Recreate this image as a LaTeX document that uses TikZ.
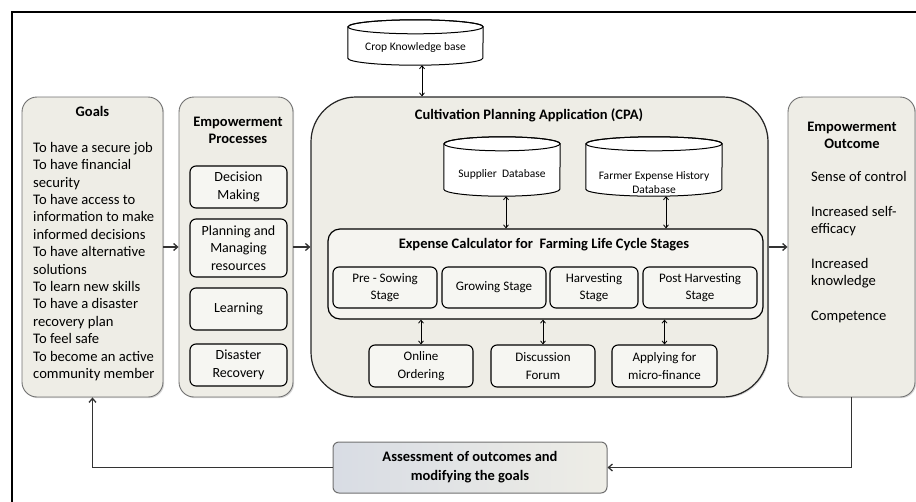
\documentclass[tikz,border=0pt]{standalone}
\usepackage{fontspec}
\setmainfont{Carlito}
\usetikzlibrary{arrows.meta,calc,shadows}

\definecolor{boxfill}{HTML}{EEEDE6}
\definecolor{boxline}{HTML}{707070}
\definecolor{assessleft}{HTML}{D8DCE4}

\begin{document}
\begin{tikzpicture}[x=1pt,y=-1pt]
\tikzset{
  bigbox/.style   = {shape=rectangle, rounded corners=15pt,
                     draw=boxline, line width=0.9pt, fill=boxfill,
                     drop shadow={shadow xshift=1.2pt, shadow yshift=-1.2pt, opacity=0.3},
                     inner sep=0pt},
  subbox/.style   = {shape=rectangle, rounded corners=6pt,
                     draw=black, line width=1.1pt, fill=white!50!boxfill,
                     align=center, inner sep=0pt,
                     font=\fontsize{14}{17.4}\selectfont},
  stagebox/.style = {subbox, font=\fontsize{13}{17.5}\selectfont},
  calcbox/.style  = {shape=rectangle, rounded corners=12pt,
                     draw=black, line width=1.2pt, fill=white!40!boxfill,
                     inner sep=0pt},
  heading/.style  = {align=center, inner sep=0pt,
                     font=\bfseries\fontsize{14.5}{17}\selectfont},
  listtext/.style = {align=left, inner sep=0pt,
                     font=\fontsize{14.6}{17.4}\selectfont},
  dbshape/.style  = {shape=rectangle, inner sep=0pt},
  dbtext/.style   = {align=center, inner sep=0pt,
                     font=\fontsize{11.5}{14}\selectfont},
  assessbox/.style= {shape=rectangle, rounded corners=6pt,
                     draw=boxline, line width=1pt,
                     left color=assessleft, right color=boxfill,
                     align=center, inner sep=0pt,
                     font=\bfseries\fontsize{14.5}{19}\selectfont},
  flow/.style     = {-{Straight Barb[length=4pt,width=7pt]}, line width=1.3pt, draw=black!80},
  dbl/.style      = {{Straight Barb[length=3pt,width=5pt]}-{Straight Barb[length=3pt,width=5pt]},
                     line width=0.8pt}
}
\useasboundingbox (0,0) rectangle (916,501);
\draw[line width=2pt] (12,12) rectangle (924,520);

% the four columns
\node[bigbox, minimum width=141pt, minimum height=300pt] (goals) at (92.5,247) {};
\node[bigbox, minimum width=114pt, minimum height=300pt] (proc) at (236,247) {};
\node[bigbox, rounded corners=45pt, draw=black!85, line width=1.2pt,
      minimum width=457pt, minimum height=300pt] (cpa) at (539.5,247) {};
\node[bigbox, minimum width=127pt, minimum height=300pt] (outc) at (851.5,247) {};

\node[heading] (goals-t) at (92.5,111) {Goals};
\node[heading] (proc-t) at (238,130) {Empowerment\\Processes};
\node[heading] (cpa-t) at (529,115) {Cultivation Planning Application (CPA)};
\node[heading] (outc-t) at (852,135.5) {Empowerment\\Outcome};

\node[listtext, anchor=north west] (goals-l) at (33,142)
  {To have a secure job\\To have financial\\security\\To have access to\\
   information to make\\informed decisions\\To have alternative\\solutions\\
   To learn new skills\\To have a disaster\\recovery plan\\To feel safe\\
   To become an active\\community member};

\node[listtext, anchor=north west] (outc-l) at (811,171)
  {Sense of control\\[17.4pt]Increased self-\\efficacy\\[17.4pt]
   Increased\\knowledge\\[17.4pt]Competence};

% processes
\node[subbox, minimum width=97pt, minimum height=42pt] (dec) at (238.5,187) {Decision\\Making};
\node[subbox, minimum width=97pt, minimum height=58pt] (plan) at (238.5,248) {Planning and\\Managing\\resources};
\node[subbox, minimum width=97pt, minimum height=42pt] (learn) at (238.5,309) {Learning};
\node[subbox, minimum width=97pt, minimum height=42pt] (disas) at (238.5,365) {Disaster\\Recovery};

% databases
\node[dbshape, minimum width=135pt, minimum height=45pt] (crop) at (415.5,42.5) {};
\node[dbshape, minimum width=116pt, minimum height=59pt] (supp) at (502,166.5) {};
\node[dbshape, minimum width=136pt, minimum height=59pt] (farm) at (654,166.5) {};
\foreach \n/\r in {crop/67.5, supp/58, farm/68}{
  \filldraw[fill=white, line width=1pt]
    ($(\n.north west)+(0,7)$) -- ($(\n.south west)+(0,-7)$)
    arc[start angle=180, end angle=360, x radius=\r pt, y radius=7pt]
    -- ($(\n.north east)+(0,7)$)
    arc[start angle=0, end angle=180, x radius=\r pt, y radius=7pt] -- cycle;
  \draw[line width=1pt] ($(\n.north)+(0,7)$) ellipse [x radius=\r pt, y radius=7pt];
}
\node[dbtext] (crop-l) at ($(crop)+(0,5)$) {Crop Knowledge base};
\node[dbtext] (supp-l) at ($(supp)+(0,7.5)$) {Supplier\ \ Database};
\node[dbtext] (farm-l) at ($(farm)+(0,16.5)$) {Farmer Expense History\\Database};

% expense calculator
\node[calcbox, minimum width=435pt, minimum height=90pt] (calc) at (545.5,274) {};
\node[heading] (calc-t) at (544,245) {Expense Calculator for\ \ Farming Life Cycle Stages};
\node[stagebox, minimum width=104pt, minimum height=41pt] (pre) at (385,287.5) {Pre - Sowing\\Stage};
\node[stagebox, minimum width=104pt, minimum height=41pt] (grow) at (494,287.5) {Growing Stage};
\node[stagebox, minimum width=88pt, minimum height=41pt] (harv) at (594,287.5) {Harvesting\\Stage};
\node[stagebox, minimum width=114pt, minimum height=41pt] (post) at (700,287.5) {Post Harvesting\\Stage};

\node[stagebox, minimum width=104pt, minimum height=42pt] (online) at (421,366) {Online\\Ordering};
\node[stagebox, minimum width=104pt, minimum height=42pt] (forum) at (543,366) {Discussion\\Forum};
\node[stagebox, minimum width=105pt, minimum height=42pt] (micro) at (664.5,366) {Applying for\\micro-finance};

% assessment
\node[assessbox, minimum width=274pt, minimum height=51pt] (assess) at (470,467.5)
  {Assessment of outcomes and\\modifying the goals};

% connectors
\draw[flow] (goals.east) -- (proc.west);
\draw[flow] (proc.east) -- (cpa.west);
\draw[flow] (cpa.east) -- (outc.west);
\draw[flow] (outc.south) |- (assess.east);
\draw[flow] (assess.west) -| (goals.south);

\draw[dbl] ([xshift=6.5pt]crop.south) -- ([xshift=6.5pt]crop.south |- cpa.north);
\draw[dbl] ([xshift=4pt]supp.south) -- ([xshift=4pt]supp.south |- calc.north);
\draw[dbl] ([xshift=12pt]farm.south) -- ([xshift=12pt]farm.south |- calc.north);
\foreach \n in {online, forum, micro}
  \draw[dbl] (\n.north) -- (\n.north |- calc.south);
\end{tikzpicture}
\end{document}
